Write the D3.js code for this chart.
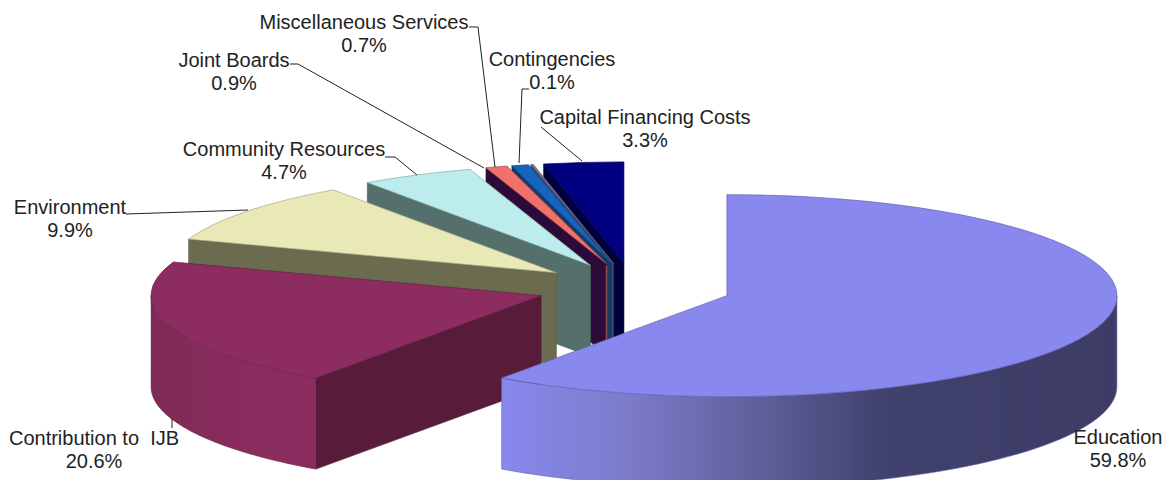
<!DOCTYPE html>
<html>
<head>
<meta charset="utf-8">
<title>Budget shares</title>
<script src="https://cdn.jsdelivr.net/npm/d3@7/dist/d3.min.js"></script>
<style>
  html, body { margin: 0; padding: 0; background: #fff; }
  svg { display: block; }
  text { font-family: "Liberation Sans", Arial, sans-serif; font-size: 20px; fill: #222; text-anchor: middle; white-space: pre; }
</style>
</head>
<body>
<svg id="chart" width="1163" height="480"></svg>
<script>
// Budget categories and their percentage shares, clockwise from twelve o'clock
const categories = ["Education", "Contribution to  IJB", "Environment", "Community Resources",
                    "Joint Boards", "Miscellaneous Services", "Contingencies", "Capital Financing Costs"];
const shares = [59.8, 20.6, 9.9, 4.7, 0.9, 0.7, 0.1, 3.3];

// Face colours per slice
const topColors = ["#8888ee", "#8c2c60", "#e9e9b8", "#bcecec", "#f0706a", "#1565c0", "#7d7396", "#000080"];
const cutColors = ["#4a4a80", "#581c3a", "#6b6b50", "#55706c", "#2c0a3a", "#173a63", "#3a4a66", "#00003c"];

// Label anchors: centre x, first baseline y
const labelPos = [[1118, 444], [94, 445], [70, 214], [284, 156], [234, 67], [364, 29], [552, 66], [645, 124]];

// Leader lines from each label towards its slice
const leaders = [
  null,
  [[172, 418], [172, 428]],
  [[126, 214], [248, 210]],
  [[385, 157], [395, 157], [417, 175]],
  [[290, 64], [298, 64], [484, 168]],
  [[469, 27], [478, 27], [495, 167]],
  [[529, 89], [522, 89], [519, 163]],
  [[541, 127], [582, 161]]
];

// Projection of the tilted pie
const cx = 634, cy = 288, rx = 390, ry = 101, depth = 91, explode = 0.25;

const svg = d3.select("#chart");
const defs = svg.append("defs");

const pie = d3.pie().sort(null).startAngle(0).endAngle(2 * Math.PI);
const arcs = pie(shares).map((d, i) => {
  const mid = (d.startAngle + d.endAngle) / 2;
  return {
    ...d, i,
    ax: cx + explode * rx * Math.sin(mid),
    ay: cy - explode * ry * Math.cos(mid)
  };
});

const rimPoint = (a, t, dz = 0) => [a.ax + rx * Math.sin(t), a.ay - ry * Math.cos(t) + dz];
const polyline = d3.line();
const unitArc = d3.arc().innerRadius(0).outerRadius(1);

// Shading across the curved outer walls
const wallGradients = {
  0: [[0, "#8888ee"], [0.2, "#7c7ccb"], [0.4, "#62629f"], [0.62, "#41416e"], [1, "#3c3c66"]],
  1: [[0, "#7e2a56"], [0.25, "#8a2c5e"], [1, "#8a2c5e"]]
};
Object.entries(wallGradients).forEach(([i, stops]) => {
  const a = arcs[+i];
  const lo = Math.max(a.startAngle, Math.PI / 2), hi = Math.min(a.endAngle, 1.5 * Math.PI);
  const xs = [rimPoint(a, lo)[0], rimPoint(a, hi)[0], a.ax + rx * Math.sin(Math.PI)];
  const g = defs.append("linearGradient")
    .attr("id", "wall" + i)
    .attr("gradientUnits", "userSpaceOnUse")
    .attr("x1", d3.min(xs)).attr("x2", d3.max(xs))
    .attr("y1", 0).attr("y2", 0);
  stops.forEach(([o, c]) => g.append("stop").attr("offset", o).attr("stop-color", c));
});

// Paint from the back of the pie to the front
const order = [7, 6, 5, 4, 3, 2, 1, 0];
order.forEach(i => {
  const a = arcs[i];
  const g = svg.append("g").attr("class", "slice");

  // Cut face along the leading radius, seen only on the left half
  if (a.startAngle > Math.PI && a.startAngle < 2 * Math.PI) {
    const r0 = rimPoint(a, a.startAngle);
    g.append("path")
      .attr("d", polyline([[a.ax, a.ay], r0, [r0[0], r0[1] + depth], [a.ax, a.ay + depth]]) + "Z")
      .attr("fill", cutColors[i])
      .attr("stroke", d3.color(cutColors[i]).darker(0.4))
      .attr("stroke-width", 0.6);
  }

  // Curved outer wall for the part of the rim that faces the viewer
  const lo = Math.max(a.startAngle, Math.PI / 2), hi = Math.min(a.endAngle, 1.5 * Math.PI);
  if (hi > lo) {
    const ts = d3.range(0, 61).map(k => lo + (hi - lo) * k / 60);
    const pts = ts.map(t => rimPoint(a, t)).concat(ts.slice().reverse().map(t => rimPoint(a, t, depth)));
    g.append("path")
      .attr("d", polyline(pts) + "Z")
      .attr("fill", wallGradients[i] ? `url(#wall${i})` : cutColors[i])
      .attr("stroke", d3.color(topColors[i]).darker(0.8))
      .attr("stroke-width", 0.6);
  }

  // Top face: a unit wedge stretched onto the ellipse
  g.append("path")
    .attr("d", unitArc(a))
    .attr("transform", `translate(${a.ax},${a.ay}) scale(${rx},${ry})`)
    .attr("fill", topColors[i])
    .attr("stroke", d3.color(topColors[i]).darker(0.9))
    .attr("stroke-width", 0.7)
    .attr("vector-effect", "non-scaling-stroke");

  // The thin salmon slice keeps a lit edge down its inner corner
  if (categories[i] === "Joint Boards") {
    g.append("path")
      .attr("d", polyline([[a.ax, a.ay + 2], [a.ax, a.ay + depth]]))
      .attr("stroke", "#8f4a4a")
      .attr("stroke-width", 1.6);
  }
});

// Leader lines
svg.append("g").selectAll("path")
  .data(leaders.filter(Boolean))
  .join("path")
  .attr("d", d => polyline(d))
  .attr("fill", "none")
  .attr("stroke", "#222")
  .attr("stroke-width", 1);

// Two-line labels: name above share
const labels = svg.append("g").selectAll("text")
  .data(categories)
  .join("text")
  .attr("transform", (d, i) => `translate(${labelPos[i][0]},${labelPos[i][1]})`);
labels.append("tspan").attr("x", 0).attr("y", 0).text(d => d);
labels.append("tspan").attr("x", 0).attr("y", 23).text((d, i) => shares[i].toFixed(1) + "%");
</script>
</body>
</html>
